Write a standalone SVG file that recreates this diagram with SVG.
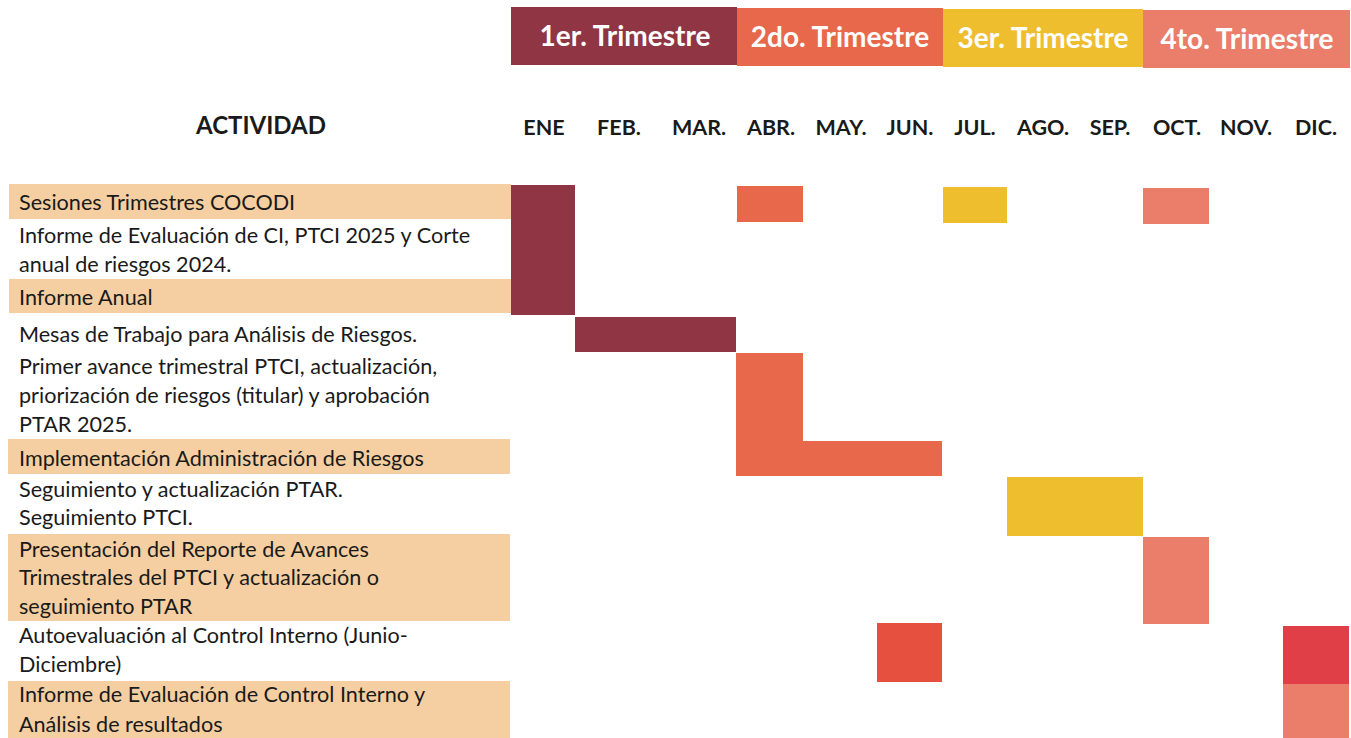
<svg xmlns="http://www.w3.org/2000/svg" width="1351" height="738" viewBox="0 0 1351 738">
<style>
  text { font-family: Lato, "Liberation Sans", sans-serif; }
  .q { font-size: 28px; font-weight: bold; fill: #ffffff; text-anchor: middle; }
  .m { font-size: 21.5px; font-weight: bold; fill: #1a1a1a; text-anchor: middle; }
  .h { font-size: 24px; font-weight: bold; fill: #1a1a1a; text-anchor: middle; }
  .t { font-size: 21.6px; fill: #1a1a1a; }
  .band { fill: #F5CFA1; }
  .c1 { fill: #8F3543; }
  .c2 { fill: #E8684B; }
  .c3 { fill: #EFBE2F; }
  .c4 { fill: #EA7E6B; }
  .c5 { fill: #E5503F; }
  .c6 { fill: #E13F47; }
</style>
<rect width="1351" height="738" fill="#ffffff"/>

<g id="header">
  <rect class="c1" x="511" y="7" width="226" height="58"/>
  <rect class="c2" x="737" y="8" width="206" height="58"/>
  <rect class="c3" x="943" y="9" width="200" height="58"/>
  <rect class="c4" x="1143" y="10" width="207" height="58"/>
  <text class="q" x="625" y="46">1er. Trimestre</text>
  <text class="q" x="840" y="47">2do. Trimestre</text>
  <text class="q" x="1043" y="48">3er. Trimestre</text>
  <text class="q" x="1247" y="49">4to. Trimestre</text>
</g>

<g id="months">
  <text class="h" x="261" y="134">ACTIVIDAD</text>
  <text class="m" x="544" y="135">ENE</text>
  <text class="m" x="619" y="135">FEB.</text>
  <text class="m" x="699" y="135">MAR.</text>
  <text class="m" x="771" y="135">ABR.</text>
  <text class="m" x="841" y="135">MAY.</text>
  <text class="m" x="910" y="135">JUN.</text>
  <text class="m" x="975" y="135">JUL.</text>
  <text class="m" x="1043" y="135">AGO.</text>
  <text class="m" x="1110" y="135">SEP.</text>
  <text class="m" x="1177" y="135">OCT.</text>
  <text class="m" x="1246" y="135">NOV.</text>
  <text class="m" x="1316" y="135">DIC.</text>
</g>

<g id="row-sesiones">
  <rect class="band" x="9" y="184" width="502" height="35"/>
  <text class="t" x="19" y="210">Sesiones Trimestres COCODI</text>
  <rect class="c2" x="737" y="186" width="66" height="36"/>
  <rect class="c3" x="943" y="187" width="64" height="36"/>
  <rect class="c4" x="1143" y="188" width="66" height="36"/>
</g>

<g id="row-informe-evaluacion">
  <text class="t" x="19" y="243">Informe de Evaluación de CI, PTCI 2025 y Corte</text>
  <text class="t" x="19" y="272">anual de riesgos 2024.</text>
</g>

<g id="row-informe-anual">
  <rect class="band" x="9" y="279" width="502" height="34"/>
  <text class="t" x="19" y="305">Informe Anual</text>
</g>

<g id="bar-ene">
  <rect class="c1" x="511" y="185" width="64" height="130"/>
</g>

<g id="row-mesas">
  <text class="t" x="19" y="342">Mesas de Trabajo para Análisis de Riesgos.</text>
  <rect class="c1" x="575" y="317" width="161" height="35"/>
</g>

<g id="row-primer-avance">
  <text class="t" x="19" y="374">Primer avance trimestral PTCI, actualización,</text>
  <text class="t" x="19" y="403">priorización de riesgos (titular) y aprobación</text>
  <text class="t" x="19" y="432">PTAR 2025.</text>
  <rect class="c2" x="736" y="353" width="67" height="123"/>
</g>

<g id="row-implementacion">
  <rect class="band" x="8" y="439" width="502" height="35"/>
  <text class="t" x="19" y="466">Implementación Administración de Riesgos</text>
  <rect class="c2" x="803" y="441" width="139" height="35"/>
</g>

<g id="row-seguimiento">
  <text class="t" x="19" y="497">Seguimiento y actualización PTAR.</text>
  <text class="t" x="19" y="525">Seguimiento PTCI.</text>
  <rect class="c3" x="1007" y="477" width="136" height="59"/>
</g>

<g id="row-presentacion">
  <rect class="band" x="8" y="534" width="502" height="87"/>
  <text class="t" x="19" y="557">Presentación del Reporte de Avances</text>
  <text class="t" x="19" y="585">Trimestrales del PTCI y actualización o</text>
  <text class="t" x="19" y="614">seguimiento PTAR</text>
  <rect class="c4" x="1143" y="537" width="66" height="87"/>
</g>

<g id="row-autoevaluacion">
  <text class="t" x="19" y="643">Autoevaluación al Control Interno (Junio-</text>
  <text class="t" x="19" y="672">Diciembre)</text>
  <rect class="c5" x="877" y="623" width="65" height="59"/>
  <rect class="c6" x="1283" y="626" width="66" height="58"/>
</g>

<g id="row-informe-control">
  <rect class="band" x="8" y="681" width="502" height="57"/>
  <text class="t" x="19" y="702">Informe de Evaluación de Control Interno y</text>
  <text class="t" x="19" y="732">Análisis de resultados</text>
  <rect class="c4" x="1283" y="684" width="66" height="54"/>
</g>

<g id="connectors"></g>
</svg>
